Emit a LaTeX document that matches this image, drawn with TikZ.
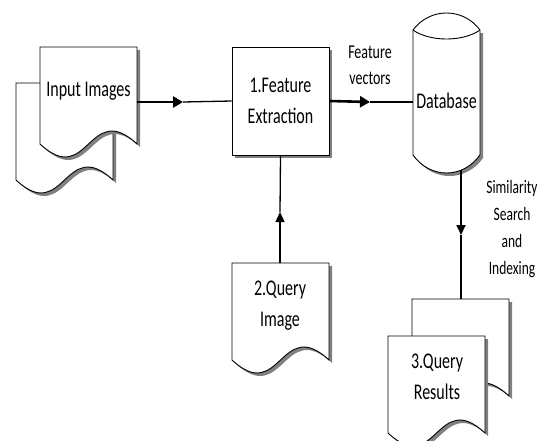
\documentclass[tikz,border=0pt]{standalone}
\usepackage{fontspec}
\setmainfont{Carlito}
\usepackage{graphicx}
\usetikzlibrary{arrows.meta}
\newcommand{\vtxt}[3]{\scalebox{1}[1.4]{\fontsize{#1}{#2}\selectfont\begin{tabular}{@{}c@{}}#3\end{tabular}}}
\tikzset{
  shapeline/.style={draw=black, line width=0.9pt, fill=white},
  shadowfill/.style={fill=black!50},
  docshape/.pic={
    \fill[shadowfill] (3,3) -- (100,3) -- (100,100) .. controls (51.5,55) and (51.5,145) .. (3,100) -- cycle;
    \path[shapeline] (0,0) -- (97,0) -- (97,97) .. controls (48.5,52) and (48.5,142) .. (0,97) -- cycle;
  },
  thickarrow/.style={line width=2.6pt, -{Triangle[length=10pt,width=11pt]}},
  thinarrow/.style={line width=1.3pt, -{Triangle[length=10pt,width=9pt]}},
  thinline/.style={line width=1.3pt},
  lbl/.style={inner sep=0pt, text=black}
}
\begin{document}
\begin{tikzpicture}[x=1pt,y=-1pt]
\useasboundingbox (0,0) rectangle (537,440);
\clip (0,0) rectangle (537,440);
% Input images (two stacked documents)
\pic at (16,83) {docshape};
\pic at (40,47) {docshape};
\node[lbl] (intxt) at (88.5,90) {\vtxt{16}{21.5}{Input Images}};
% Feature extraction box
\fill[shadowfill] (235,50) rectangle (332,158);
\node[shapeline, minimum width=97pt, minimum height=108pt, inner sep=0pt] (fe) at (280.5,101) {};
\node[lbl] (fetxt) at (280.5,102) {\vtxt{16}{21.5}{1.Feature\\Extraction}};
% Database cylinder
\fill[shadowfill] (416,33) -- (483,33) -- (483,158) .. controls (466,182) and (433,182) .. (416,158) -- cycle;
\path[shapeline] (413,30) .. controls (430,7.3) and (463,7.3) .. (480,30) -- (480,155) .. controls (463,179) and (430,179) .. (413,155) -- cycle;
\draw[line width=0.9pt] (413,30) .. controls (430,42) and (463,42) .. (480,30);
\coordinate (dbw) at (413,102);
\coordinate (dbs) at (461,170);
\node[lbl] (dbtxt) at (446.5,102) {\vtxt{16}{21.5}{Database}};
% Query image document
\pic at (232,263) {docshape};
\coordinate (qin) at (280,263);
\node[lbl] (qitxt) at (280,305) {\vtxt{16}{21.5}{2.Query\\Image}};
% Query results (two stacked documents)
\pic at (412,299) {docshape};
\pic at (388,336) {docshape};
\coordinate (qrn) at (461,299);
\node[lbl] (qrtxt) at (437,378) {\vtxt{16}{21.5}{3.Query\\Results}};
% connector anchors
\coordinate (ine) at (137,102);
\coordinate (a1) at (183,102);
\coordinate (a2) at (370,102);
\coordinate (a3) at (280,212);
\coordinate (a4) at (461,235);
% connectors
\draw[thickarrow] (ine) -- (a1);
\draw[thinline] (a1) -- (fe.west);
\draw[thickarrow] (fe.east) -- (a2);
\draw[thinline] (a2) -- (dbw);
\draw[thinarrow] (qin) -- (a3);
\draw[thinline] (a3) -- (fe.south);
\draw[line width=2pt, -{Triangle[length=10pt,width=9pt]}] (dbs) -- (a4);
\draw[thinline] (a4) -- (qrn);
% labels
\node[lbl] (fvtxt) at (370,66) {\vtxt{14}{18.6}{Feature\\vectors}};
\node[lbl] (sstxt) at (512,229) {\vtxt{13.5}{19.3}{Similarity\\Search\\and\\Indexing}};
\end{tikzpicture}
\end{document}
